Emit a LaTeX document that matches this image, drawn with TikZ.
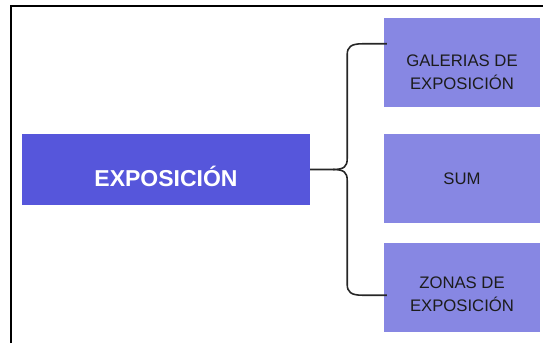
\documentclass[tikz,border=0pt]{standalone}
\usepackage{fontspec}
\setmainfont{Liberation Sans}
\usetikzlibrary{positioning,calc}
\definecolor{mainblue}{HTML}{5656DB}
\definecolor{subblue}{HTML}{8787E3}
\definecolor{inkgray}{HTML}{1C1C1C}
\tikzstyle{mainbox} = [rectangle, fill=mainblue, minimum width=288pt, minimum height=70pt, inner sep=0pt]
\tikzstyle{subbox} = [rectangle, fill=subblue, minimum width=156pt, minimum height=89pt, inner sep=0pt]
\tikzstyle{sublbl} = [align=center, text=inkgray, font=\fontsize{16.7}{23}\selectfont]
\tikzstyle{brace} = [draw=black!85, line width=1.6pt]

\begin{document}
\begin{tikzpicture}[on grid, align=center]
\useasboundingbox (0,0) rectangle (543pt,343pt);

% frame
\draw [line width=2pt] (11pt,0) -- (11pt,337pt) -- (543pt,337pt);

\node (main) [mainbox] at (166pt,173.5pt) {};
\node (mainlbl) [text=white, font=\fontsize{23}{26}\selectfont\bfseries] at ([yshift=-6.5pt]main.center) {EXPOSICIÓN};

\node (sum) [subbox, right=296pt of main, yshift=-9pt] {};
\node (sumlbl) [sublbl] at (sum.center) {SUM};

\node (gal) [subbox, above=116pt of sum] {};
\node (gallbl) [sublbl] at ([yshift=-10pt]gal.center) {GALERIAS DE\\EXPOSICIÓN};

\node (zon) [subbox, below=109pt of sum] {};
\node (zonlbl) [sublbl] at ([yshift=-7pt]zon.center) {ZONAS DE\\EXPOSICIÓN};

% brace
\coordinate (tip) at ($(main.east)+(23pt,0)$);
\coordinate (spine) at ($(tip)+(14pt,0)$);
\coordinate (galin) at ($(gal.north west)+(3pt,-26pt)$);
\coordinate (zonin) at ($(zon.south west)+(3pt,37pt)$);

\draw [brace] (main.east) -- (tip)
  .. controls ($(spine)+(-3pt,0)$) and ($(spine)+(0,3pt)$) .. ($(spine)+(0,11pt)$)
  -- ($(spine |- galin)+(0,-11pt)$)
  .. controls ($(spine |- galin)+(0,-3pt)$) and ($(spine |- galin)+(4pt,0)$) .. ($(spine |- galin)+(15pt,0)$)
  -- (galin);
\draw [brace] (tip)
  .. controls ($(spine)+(-3pt,0)$) and ($(spine)+(0,-3pt)$) .. ($(spine)+(0,-11pt)$)
  -- ($(spine |- zonin)+(0,11pt)$)
  .. controls ($(spine |- zonin)+(0,3pt)$) and ($(spine |- zonin)+(4pt,0)$) .. ($(spine |- zonin)+(15pt,0)$)
  -- (zonin);

\end{tikzpicture}
\end{document}
